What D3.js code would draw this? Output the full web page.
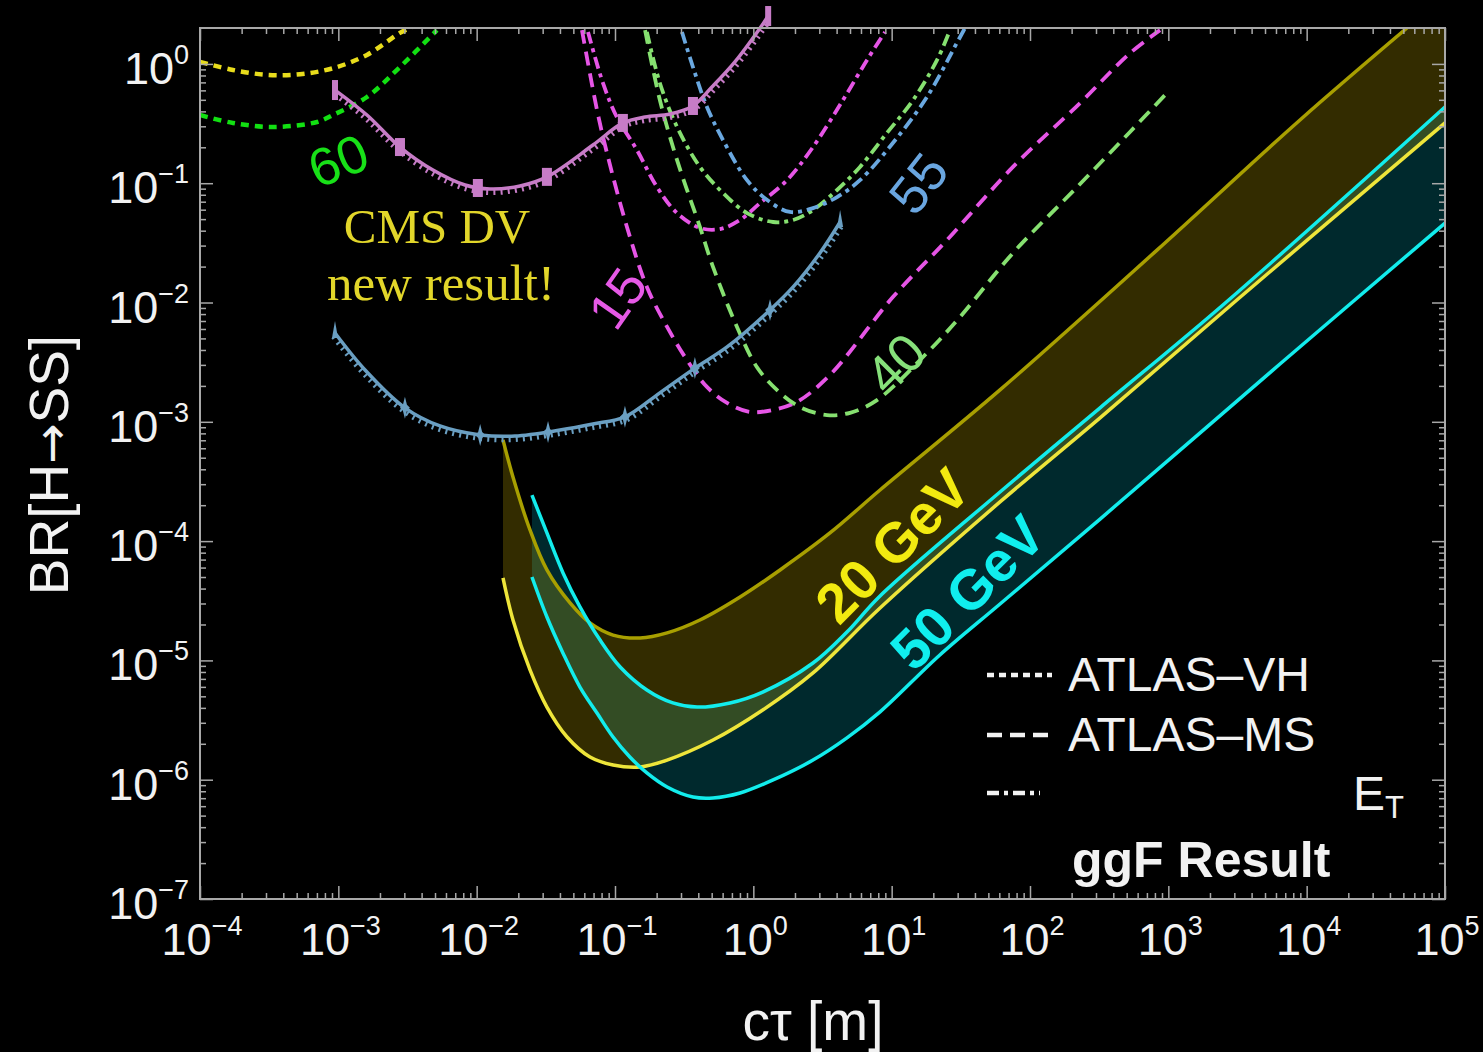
<!DOCTYPE html>
<html>
<head>
<meta charset="utf-8">
<script src="https://cdn.jsdelivr.net/npm/d3@7"></script>
<style>
  html, body { margin: 0; background: #000; }
  svg { display: block; }
</style>
</head>
<body>
<script>
// values: [c*tau in m, BR]
const vhYellow = [[1e-4,1.04],[1.73e-4,0.89],[3.05e-4,0.81],[5.28e-4,0.82],[9.14e-4,0.92],[1.61e-3,1.19],[2.79e-3,1.82],[3.41e-3,2.04]];
const vhGreen = [[1e-4,0.373],[1.73e-4,0.320],[3.37e-4,0.296],[7.02e-4,0.326],[9.14e-4,0.373],[1.61e-3,0.528],[2.79e-3,0.942],[5.16e-3,1.92]];

const cmsPink = [[9.46e-4,0.604],[1.61e-3,0.373],[2.79e-3,0.201],[4.83e-3,0.129],[8.24e-3,0.0966],[1.25e-2,0.0893],[2.06e-2,0.0948],[3.22e-2,0.113],[6.93e-2,0.209],[0.114,0.320],[0.165,0.359],[0.250,0.380],[0.366,0.444],[0.502,0.640],[0.736,1.04],[1.12,2.0],[1.28,2.52]];
const cmsPinkMarks = [[2.79e-3,0.201],[1.02e-2,0.0912],[3.22e-2,0.113],[0.114,0.320],[0.366,0.444]];
const cmsBlue = [[9.46e-4,5.55e-3],[1.56e-3,2.72e-3],[3.03e-3,1.31e-3],[5.43e-3,9.23e-4],[1.06e-2,7.76e-4],[1.89e-2,7.60e-4],[4.0e-2,8.53e-4],[6.93e-2,9.59e-4],[0.118,1.10e-3],[0.211,1.75e-3],[0.378,2.82e-3],[0.646,4.24e-3],[1.32,8.65e-3],[1.94,1.35e-2],[3.03,2.60e-2],[4.24,4.73e-2]];
const cmsBlueMarks = [[3.03e-3,1.31e-3],[1.06e-2,7.76e-4],[3.28e-2,8.22e-4],[0.118,1.10e-3],[0.378,2.82e-3],[1.32,8.65e-3]];

const msMagenta = [[5.77e-2,1.92],[7.41e-2,0.411],[8.75e-2,0.179],[0.122,4.30e-2],[0.170,1.35e-2],[0.238,6.24e-3],[0.331,3.30e-3],[0.462,1.96e-3],[0.646,1.44e-3],[0.946,1.21e-3],[1.39,1.26e-3],[2.07,1.47e-3],[3.58,2.47e-3],[10.2,1.11e-2],[25.1,3.34e-2],[75.3,0.137],[230,0.470],[528,1.23],[871,1.92]];
const crMagenta = [[6.38e-2,1.85],[8.18e-2,0.692],[0.103,0.359],[0.144,0.190],[0.201,9.29e-2],[0.281,5.62e-2],[0.411,4.22e-2],[0.574,4.13e-2],[0.802,4.92e-2],[1.12,6.82e-2],[1.75,0.106],[2.70,0.201],[4.45,0.499],[6.64,1.08],[8.95,1.85]];
const msGreen = [[0.165,1.92],[0.211,0.498],[0.281,0.156],[0.411,4.30e-2],[0.511,1.99e-2],[0.762,6.24e-3],[1.06,2.88e-3],[1.48,1.85e-3],[2.17,1.33e-3],[3.41,1.14e-3],[5.00,1.19e-3],[7.83,1.52e-3],[18.0,3.78e-3],[31.2,7.57e-3],[75.3,2.60e-2],[230,9.84e-2],[528,0.269],[977,0.570]];
const crGreen = [[0.170,1.85],[0.211,0.692],[0.281,0.296],[0.411,0.137],[0.604,8.28e-2],[0.900,5.62e-2],[1.39,4.73e-2],[1.94,4.92e-2],[2.70,5.96e-2],[4.03,8.77e-2],[5.90,0.137],[9.25,0.264],[14.3,0.499],[21.3,1.08],[26.4,1.92]];
const crBlue = [[0.305,1.85],[0.366,0.942],[0.462,0.436],[0.604,0.230],[0.900,0.106],[1.26,7.23e-2],[1.84,5.74e-2],[2.70,6.19e-2],[4.03,7.66e-2],[5.90,0.106],[10.2,0.217],[18.0,0.528],[29.6,1.50],[33.9,2.0]];

const band20Upper = [[1.55e-2,7.05e-4],[1.83e-2,3.44e-4],[2.43e-2,1.24e-4],[3.22e-2,5.73e-5],[4.73e-2,3.03e-5],[6.59e-2,2.06e-5],[9.68e-2,1.63e-5],[0.152,1.54e-5],[0.238,1.70e-5],[0.411,2.18e-5],[0.802,3.40e-5],[1.56,5.73e-5],[3.58,1.17e-4],[8.24,2.68e-4],[60.7,1.85e-3],[828,2.75e-2],[8950,0.339],[5.31e4,2.0]];
const band20Lower = [[1.55e-2,4.91e-5],[1.83e-2,2.18e-5],[2.43e-2,8.32e-6],[3.22e-2,4.06e-6],[4.50e-2,2.28e-6],[6.59e-2,1.55e-6],[9.68e-2,1.33e-6],[0.152,1.28e-6],[0.238,1.46e-6],[0.511,2.15e-6],[1.17,3.84e-6],[2.70,7.85e-6],[8.24,2.75e-5],[60.7,2.13e-4],[321,1.08e-3],[3130,1.05e-2],[1e5,0.320]];
const band50Upper = [[2.51e-2,2.43e-4],[3.22e-2,1.17e-4],[4.21e-2,5.41e-5],[5.58e-2,2.81e-5],[7.80e-2,1.48e-5],[0.109,8.81e-6],[0.170,5.65e-6],[0.262,4.40e-6],[0.392,4.06e-6],[0.678,4.40e-6],[1.17,5.43e-6],[2.70,9.51e-6],[4.75,1.73e-5],[8.24,3.47e-5],[60.7,2.58e-4],[321,1.31e-3],[2480,9.53e-3],[1e5,0.436]];
const band50Lower = [[2.51e-2,5.0e-5],[3.22e-2,2.31e-5],[4.21e-2,1.15e-5],[5.58e-2,5.98e-6],[7.41e-2,3.62e-6],[9.68e-2,2.28e-6],[0.128,1.55e-6],[0.170,1.14e-6],[0.238,8.69e-7],[0.366,7.16e-7],[0.511,7.03e-7],[0.802,7.74e-7],[1.39,9.95e-7],[2.70,1.46e-6],[4.75,2.24e-6],[8.24,3.70e-6],[22.3,1.11e-5],[60.7,2.97e-5],[321,1.53e-4],[6410,3.05e-3],[1e5,4.63e-2]];

const xTicks = [1e-4,1e-3,1e-2,1e-1,1,1e1,1e2,1e3,1e4,1e5];
const yTicks = [1e-7,1e-6,1e-5,1e-4,1e-3,1e-2,1e-1,1];

const W = 1483, H = 1052;
const sans = "'Liberation Sans', Arial, sans-serif";

const x = d3.scaleLog().domain([1e-4, 1e5]).range([200, 1445]);
const y = d3.scaleLog().domain([1e-7, 2]).range([899, 28]);

const svg = d3.select("body").append("svg")
  .attr("width", W).attr("height", H)
  .attr("viewBox", [0, 0, W, H]);

svg.append("rect").attr("width", W).attr("height", H).attr("fill", "#000");

svg.append("clipPath").attr("id", "plot")
  .append("rect").attr("x", 200).attr("y", 28).attr("width", 1245).attr("height", 871);

const line = d3.line()
  .x(d => x(d[0]))
  .y(d => y(d[1]))
  .curve(d3.curveCatmullRom.alpha(0.5));

// closed band: upper edge, across the top-right corner of the frame if needed, back along the lower edge
function bandPath(up, lo) {
  const a = line(up);
  const b = line(lo.slice().reverse());
  const [xr] = x.range().slice(1);
  const corner = `L${xr},${y(up[up.length - 1][1])}`;
  return a + corner + "L" + b.slice(1) + "Z";
}

const plot = svg.append("g").attr("clip-path", "url(#plot)");

// bands
plot.append("path").attr("d", bandPath(band50Upper, band50Lower)).attr("fill", "rgba(0,205,225,0.2)");
plot.append("path").attr("d", bandPath(band20Upper, band20Lower)).attr("fill", "rgba(255,222,0,0.2)");

const bandLines = [
  [band20Upper, "#a89f00"],
  [band20Lower, "#eee53a"],
  [band50Lower, "#12ecec"],
  [band50Upper, "#12ecec"]
];
bandLines.forEach(([d, c]) => {
  plot.append("path").datum(d)
    .attr("fill", "none").attr("stroke", c).attr("stroke-width", 3.5)
    .attr("d", line);
});

// ATLAS limits
const dashed = [
  [vhYellow, "#e8dc1c", "8,6", 4.5],
  [vhGreen, "#12e012", "8,6", 4.5],
  [msMagenta, "#e655e6", "14,8", 3.8],
  [crMagenta, "#e655e6", "12,5,4,5", 3.8],
  [msGreen, "#86e070", "14,8", 3.8],
  [crGreen, "#86e070", "12,5,4,5", 3.8],
  [crBlue, "#6aa8e0", "12,5,4,5", 3.8]
];
dashed.forEach(([d, c, dash, w]) => {
  plot.append("path").datum(d)
    .attr("fill", "none").attr("stroke", c).attr("stroke-width", w)
    .attr("stroke-dasharray", dash)
    .attr("d", line);
});

// CMS displaced vertex curves, hatched on the excluded side
function cmsCurve(data, marks, color, markType) {
  const g = svg.append("g");
  const p = g.append("path").datum(data)
    .attr("fill", "none").attr("stroke", color).attr("stroke-width", 3.5)
    .attr("d", line);
  const node = p.node();
  const L = node.getTotalLength();
  const ticks = [];
  for (let s = 3; s < L - 2; s += 7) {
    const a = node.getPointAtLength(s), b = node.getPointAtLength(s + 1);
    let dx = b.x - a.x, dy = b.y - a.y;
    const n = Math.hypot(dx, dy) || 1;
    dx /= n; dy /= n;
    ticks.push([a.x, a.y, a.x - dy * 6, a.y + dx * 6]);
  }
  g.selectAll("line.h").data(ticks).join("line")
    .attr("x1", d => d[0]).attr("y1", d => d[1])
    .attr("x2", d => d[2]).attr("y2", d => d[3])
    .attr("stroke", color).attr("stroke-width", 2);

  const ends = [data[0], data[data.length - 1]];
  if (markType === "square") {
    g.selectAll("rect.m").data(marks).join("rect")
      .attr("x", d => x(d[0]) - 5).attr("y", d => y(d[1]) - 9)
      .attr("width", 10).attr("height", 18).attr("fill", color);
    g.selectAll("rect.e").data(ends).join("rect")
      .attr("x", d => x(d[0]) - 3).attr("y", d => y(d[1]) - 10)
      .attr("width", 6).attr("height", 20).attr("fill", color);
  } else {
    g.selectAll("path.m").data(marks).join("path")
      .attr("transform", d => `translate(${x(d[0])},${y(d[1])})`)
      .attr("d", "M0,-11L2,-3L5,0L2,3L0,11L-2,3L-5,0L-2,-3Z")
      .attr("fill", color);
    g.selectAll("path.e").data(ends).join("path")
      .attr("transform", d => `translate(${x(d[0])},${y(d[1])})`)
      .attr("d", "M-3,5L0,-12L3,5Z")
      .attr("fill", color);
  }
}
cmsCurve(cmsPink, cmsPinkMarks, "#c77cc7", "square");
cmsCurve(cmsBlue, cmsBlueMarks, "#6a9fc2", "star");

// frame and ticks (inside, all four sides)
function minorVals(lo, hi) {
  const out = [];
  for (let e = Math.floor(Math.log10(lo)); e <= Math.ceil(Math.log10(hi)); e++) {
    for (let k = 2; k <= 9; k++) {
      const v = k * Math.pow(10, e);
      if (v > lo && v < hi) out.push(v);
    }
  }
  return out;
}
const xMinor = minorVals(1e-4, 1e5);
const yMinor = minorVals(1e-7, 2);

const tickStyle = g => {
  g.select(".domain").remove();
  g.selectAll("text").remove();
  g.selectAll("line").attr("stroke", "#a8a8a8").attr("stroke-width", 1.5);
};

[[xTicks, -13], [xMinor, -6]].forEach(([vals, len]) => {
  svg.append("g").attr("transform", "translate(0,899)")
    .call(d3.axisBottom(x).tickValues(vals).tickSize(len).tickFormat("")).call(tickStyle);
  svg.append("g").attr("transform", "translate(0,28)")
    .call(d3.axisTop(x).tickValues(vals).tickSize(len).tickFormat("")).call(tickStyle);
});
[[yTicks, -13], [yMinor, -6]].forEach(([vals, len]) => {
  svg.append("g").attr("transform", "translate(200,0)")
    .call(d3.axisLeft(y).tickValues(vals).tickSize(len).tickFormat("")).call(tickStyle);
  svg.append("g").attr("transform", "translate(1445,0)")
    .call(d3.axisRight(y).tickValues(vals).tickSize(len).tickFormat("")).call(tickStyle);
});

svg.append("rect")
  .attr("x", 200).attr("y", 28).attr("width", 1245).attr("height", 871)
  .attr("fill", "none").attr("stroke", "#a8a8a8").attr("stroke-width", 2);

// tick labels 10^n
function expLabel(sel) {
  sel.text("10")
    .append("tspan")
    .attr("dy", -20).attr("font-size", 27)
    .text(d => {
      const e = Math.round(Math.log10(d));
      return e < 0 ? "\u2212" + (-e) : String(e);
    });
}
svg.append("g")
  .attr("font-family", sans).attr("font-size", 45).attr("fill", "#f2f2f2")
  .selectAll("text").data(xTicks).join("text")
  .attr("x", d => x(d) + 2).attr("y", 955)
  .attr("text-anchor", "middle")
  .call(expLabel);

svg.append("g")
  .attr("font-family", sans).attr("font-size", 45).attr("fill", "#f2f2f2")
  .selectAll("text").data(yTicks).join("text")
  .attr("x", 189).attr("y", d => y(d) + 20)
  .attr("text-anchor", "end")
  .call(expLabel);

// axis titles
const yTitle = svg.append("text")
  .attr("transform", "translate(68,465) rotate(-90)")
  .attr("text-anchor", "middle")
  .attr("font-family", sans).attr("font-size", 55).attr("fill", "#f2f2f2");
yTitle.append("tspan").text("BR[H");
yTitle.append("tspan").attr("font-family", "'DejaVu Sans', sans-serif").attr("font-size", 48).text("\u2192");
yTitle.append("tspan").text("SS]");

svg.append("text")
  .attr("x", 813).attr("y", 1040)
  .attr("text-anchor", "middle")
  .attr("font-family", sans).attr("font-size", 55).attr("fill", "#f2f2f2")
  .text("c\u03c4 [m]");

// curve annotations
const notes = [
  ["60", 338, 160, -22, "#18e018", "normal", 53],
  ["15", 617, 298, -55, "#e659e6", "normal", 53],
  ["55", 918, 183, -52, "#6aa6e0", "normal", 53],
  ["40", 895, 363, -45, "#86e07a", "normal", 53],
  ["20 GeV", 892, 545, -45, "#f2ea10", "bold", 56],
  ["50 GeV", 967, 592, -45, "#10eeee", "bold", 56]
];
svg.append("g").selectAll("text").data(notes).join("text")
  .attr("transform", d => `translate(${d[1]},${d[2]}) rotate(${d[3]})`)
  .attr("text-anchor", "middle").attr("dy", "0.36em")
  .attr("font-family", sans).attr("font-size", d => d[6])
  .attr("font-weight", d => d[5])
  .attr("fill", d => d[4])
  .text(d => d[0]);

const serif = "'Liberation Serif', 'Times New Roman', serif";
svg.append("text").attr("x", 437).attr("y", 243).attr("text-anchor", "middle")
  .attr("font-family", serif).attr("font-size", 49).attr("fill", "#e2d62a")
  .text("CMS DV");
svg.append("text").attr("x", 441).attr("y", 300).attr("text-anchor", "middle")
  .attr("font-family", serif).attr("font-size", 51).attr("fill", "#e2d62a")
  .text("new result!");

// legend
const legend = svg.append("g").attr("fill", "#f2f2f2").attr("font-family", sans);
const legendRows = [
  [675, 1052, "7,5", "ATLAS\u2013VH"],
  [735, 1050, "15,8", "ATLAS\u2013MS"],
  [793, 1040, "12,5,4,5", ""]
];
legendRows.forEach(([ly, x2, dash, label]) => {
  legend.append("line")
    .attr("x1", 987).attr("x2", x2).attr("y1", ly).attr("y2", ly)
    .attr("stroke", "#f2f2f2").attr("stroke-width", 4.5)
    .attr("stroke-dasharray", dash);
  if (label) legend.append("text").attr("x", 1068).attr("y", ly + 16)
    .attr("font-size", 48).text(label);
});
const et = legend.append("text").attr("x", 1353).attr("y", 810).attr("font-size", 48).text("E");
et.append("tspan").attr("dy", 8).attr("font-size", 31).text("T");
legend.append("text").attr("x", 1072).attr("y", 877)
  .attr("font-size", 50).attr("font-weight", "bold").text("ggF Result");
</script>
</body>
</html>
